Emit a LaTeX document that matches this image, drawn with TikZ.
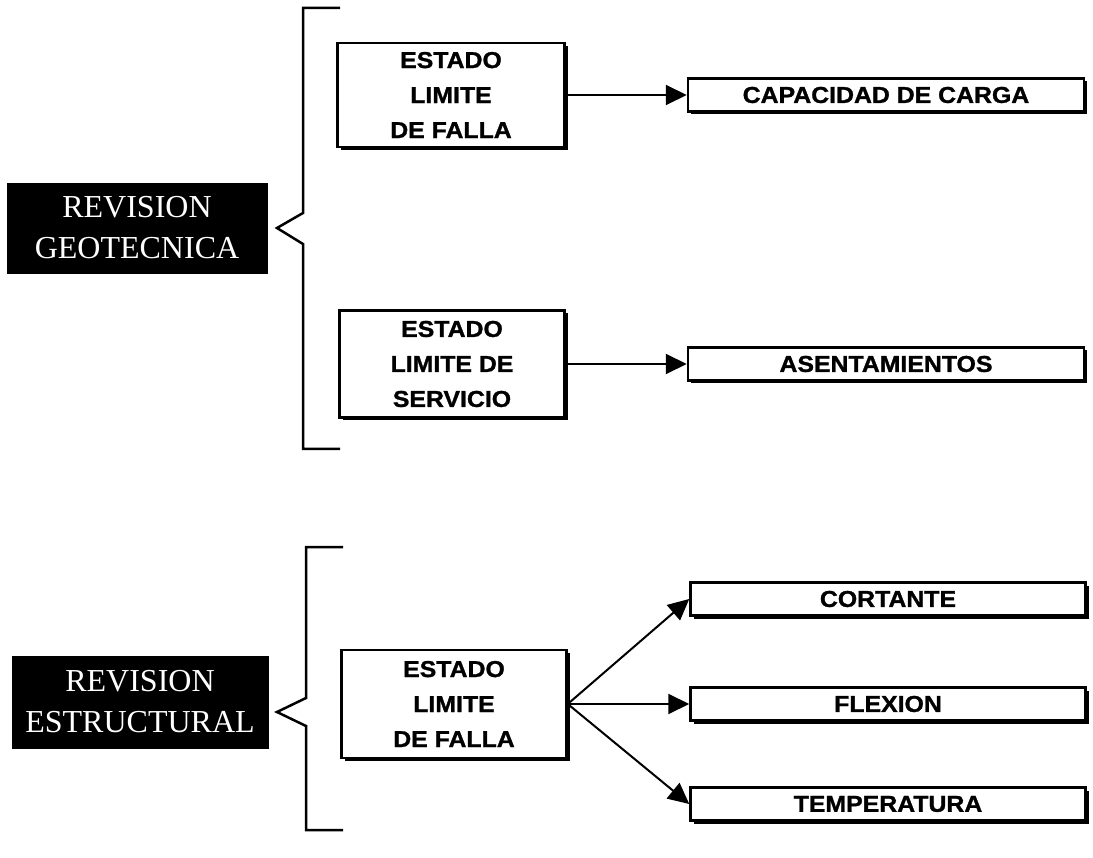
\documentclass[tikz,border=0pt]{standalone}
\usepackage{fontspec}
\setmainfont{Liberation Serif}
\newfontfamily\boxfont[FakeStretch=1.08,BoldFeatures={FakeBold=1.2}]{Liberation Sans}
\usetikzlibrary{arrows.meta,shadows}
\begin{document}
\begin{tikzpicture}[x=1pt,y=-1pt,
  rev/.style={fill=black,draw=black,text=white,inner sep=0pt,align=center,
    font=\fontsize{32}{41}\selectfont},
  est/.style={draw=black,fill=white,line width=2.5pt,inner sep=0pt,align=center,
    font=\boxfont\bfseries\fontsize{23}{35}\selectfont,
    drop shadow={opacity=1,fill=black,shadow xshift=3pt,shadow yshift=-3pt}},
  res/.style={draw=black,fill=white,line width=2.5pt,inner sep=0pt,
    minimum width=396pt,minimum height=33pt,
    font=\boxfont\bfseries\fontsize{23}{25}\selectfont,
    drop shadow={opacity=1,fill=black,shadow xshift=3pt,shadow yshift=-3pt}},
  brace/.style={draw=black,line width=2.5pt,line join=miter},
  conn/.style={draw=black,line width=2pt,-{Triangle[length=21pt,width=20pt]}}]
\useasboundingbox (0,0) rectangle (1093,858);

% --- top group ---
\node[rev,minimum width=260pt,minimum height=90pt] (g) at (137,228) {REVISION\\GEOTECNICA};
\draw[brace] (340,8) -- (303,8) -- (303,213) -- (277,228) -- (303,244) -- (303,449) -- (340,449);

\node[est,minimum width=227pt,minimum height=104pt] (e1) at (451,95) {ESTADO\\LIMITE\\DE FALLA};
\node[est,minimum width=225pt,minimum height=107pt] (e2) at (452,364) {ESTADO\\LIMITE DE\\SERVICIO};

\node[res] (cap) at (886,95) {CAPACIDAD DE CARGA};
\node[res] (ase) at (886,364) {ASENTAMIENTOS};

\draw[conn] (e1.east) -- (cap.west);
\draw[conn] (e2.east) -- (ase.west);

% --- bottom group ---
\node[rev,minimum width=256pt,minimum height=92pt] (s) at (140,702) {REVISION\\ESTRUCTURAL};
\draw[brace] (343,547) -- (306,547) -- (306,698) -- (277,712) -- (306,726) -- (306,830) -- (343,830);

\node[est,minimum width=225pt,minimum height=108pt] (e3) at (454,704) {ESTADO\\LIMITE\\DE FALLA};

\node[res,minimum width=395pt] (cor) at (888,599) {CORTANTE};
\node[res,minimum width=395pt] (fle) at (888,704) {FLEXION};
\node[res,minimum width=395pt] (tem) at (888,804) {TEMPERATURA};

\draw[conn] (e3.east) -- (cor.west);
\draw[conn] (e3.east) -- (fle.west);
\draw[conn] (e3.east) -- (tem.west);
\end{tikzpicture}
\end{document}
